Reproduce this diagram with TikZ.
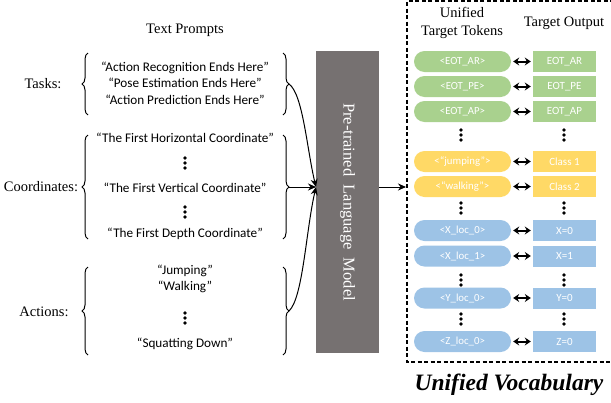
\documentclass[tikz,border=0pt]{standalone}
\usepackage{fontspec}
\setmainfont{Liberation Serif}
\newfontfamily\calib{Carlito}
\usetikzlibrary{decorations.pathreplacing,arrows.meta}
\definecolor{tgreen}{HTML}{A9D18E}
\definecolor{tyellow}{HTML}{FFD966}
\definecolor{tblue}{HTML}{9DC3E6}
\definecolor{lmgray}{HTML}{767171}
\tikzset{
  head/.style={font=\fontsize{14.5}{18}\selectfont, align=center, inner sep=0},
  lab/.style={font=\fontsize{14.5}{17}\selectfont, inner sep=0},
  prompt/.style={font=\calib\fontsize{13.2}{16.3}\selectfont, align=center, inner sep=0},
  brc/.style={decorate, decoration={brace, amplitude=6pt}, line width=1pt},
  pill/.style={fill=#1, rounded corners=10.5pt, minimum width=97pt, minimum height=21pt,
     inner sep=0, text=white, font=\calib\fontsize{10.8}{12}\selectfont},
  outbox/.style={fill=#1, minimum width=63pt, minimum height=21pt,
     inner sep=0, text=white, font=\calib\fontsize{11}{12}\selectfont},
  dbl/.style={{Stealth[length=6pt,width=8pt]}-{Stealth[length=6pt,width=8pt]}, line width=2pt,
     shorten >=2pt, shorten <=2pt},
  conn/.style={-{Stealth[length=8pt,width=7pt]}, line width=1pt},
  vocabline/.style={dash pattern=on 4pt off 2.5pt, line width=1.4pt},
  vd/.pic={\foreach \d in {-5,0,5} \fill (0,\d) circle (1.9pt);}
}
\begin{document}
\begin{tikzpicture}[x=1pt,y=-1pt]
\useasboundingbox (0,0) rectangle (611,402);

% left: prompts
\node[head] (tp) at (185,30) {Text Prompts};
\node[lab] (ltask) at (43,84) {Tasks:};
\node[lab] (lcoord) at (41,187) {Coordinates:};
\node[lab] (lact) at (44,312) {Actions:};

\node[prompt] (ptask) at (185,83) {“Action Recognition Ends Here”\\“Pose Estimation Ends Here”\\“Action Prediction Ends Here”};
\node[prompt] (ph) at (185,138) {“The First Horizontal Coordinate”};
\pic at (185,163) {vd};
\node[prompt] (pv) at (185,188) {“The First Vertical Coordinate”};
\pic at (185,212) {vd};
\node[prompt] (pd) at (185,234) {“The First Depth Coordinate”};
\node[prompt] (pj) at (185,279) {“Jumping”\\“Walking”};
\pic at (185,318) {vd};
\node[prompt] (ps) at (185,344) {“Squatting Down”};

\draw[brc] (88,115) -- (88,53);
\draw[brc] (283,53) -- (283,115);
\draw[brc] (88,239) -- (88,135);
\draw[brc] (283,135) -- (283,239);
\draw[brc] (88,355) -- (88,267);
\draw[brc] (283,267) -- (283,355);

\coordinate (ttip) at (289,84);
\coordinate (ctip) at (289,187);
\coordinate (atip) at (289,311);

% language model
\node[fill=lmgray, minimum width=63pt, minimum height=302pt, inner sep=0] (lm) at (347.5,202) {};
\node[rotate=-90, text=white, font=\fontsize{16.5}{18}\selectfont, inner sep=0] (lmt) at (lm.center) {Pre-trained\ \ Language\ \ Model};
\coordinate (merge) at (316,187);
\coordinate (lmout) at (379,187);

\draw[conn] (ttip) .. controls (303,94) and (307,150) .. (merge);
\draw[conn] (ctip) -- (merge);
\draw[conn] (atip) .. controls (303,298) and (306,230) .. (merge);

% vocabulary box (its right side runs off the page)
\draw[vocabline] (640,1) -- (407,1) -- (407,362) -- (640,362);
\coordinate (vin) at (406,187);
\draw[conn] (lmout) -- (vin);

\node[head] (hut) at (462,23) {Unified\\Target Tokens};
\node[head] (hto) at (564,23) {Target Output};

\node[pill=tgreen] (t1) at (462.5,61.5) {<EOT\_AR>};
\node[pill=tgreen] (t2) at (462.5,86.5) {<EOT\_PE>};
\node[pill=tgreen] (t3) at (462.5,111.5) {<EOT\_AP>};
\node[pill=tyellow] (t4) at (462.5,161.5) {<“jumping”>};
\node[pill=tyellow] (t5) at (462.5,186.5) {<“walking”>};
\node[pill=tblue] (t6) at (462.5,230.5) {<X\_loc\_0>};
\node[pill=tblue] (t7) at (462.5,256) {<X\_loc\_1>};
\node[pill=tblue] (t8) at (462.5,298) {<Y\_loc\_0>};
\node[pill=tblue] (t9) at (462.5,341.5) {<Z\_loc\_0>};

\node[outbox=tgreen] (o1) at (564.5,61.5) {EOT\_AR};
\node[outbox=tgreen] (o2) at (564.5,86.5) {EOT\_PE};
\node[outbox=tgreen] (o3) at (564.5,111.5) {EOT\_AP};
\node[outbox=tyellow] (o4) at (564.5,161.5) {Class 1};
\node[outbox=tyellow] (o5) at (564.5,186.5) {Class 2};
\node[outbox=tblue] (o6) at (564.5,230.5) {X=0};
\node[outbox=tblue] (o7) at (564.5,256) {X=1};
\node[outbox=tblue] (o8) at (564.5,298) {Y=0};
\node[outbox=tblue] (o9) at (564.5,341.5) {Z=0};

\foreach \i in {1,...,9} \draw[dbl] (t\i) -- (o\i);

\foreach \y in {135,208,280,319} {
  \pic at (461,\y) {vd};
  \pic at (564,\y) {vd};
}

\node[font=\bfseries\itshape\fontsize{23.5}{26}\selectfont, anchor=base, inner sep=0] (uv) at (509,390) {Unified Vocabulary};
\end{tikzpicture}
\end{document}
